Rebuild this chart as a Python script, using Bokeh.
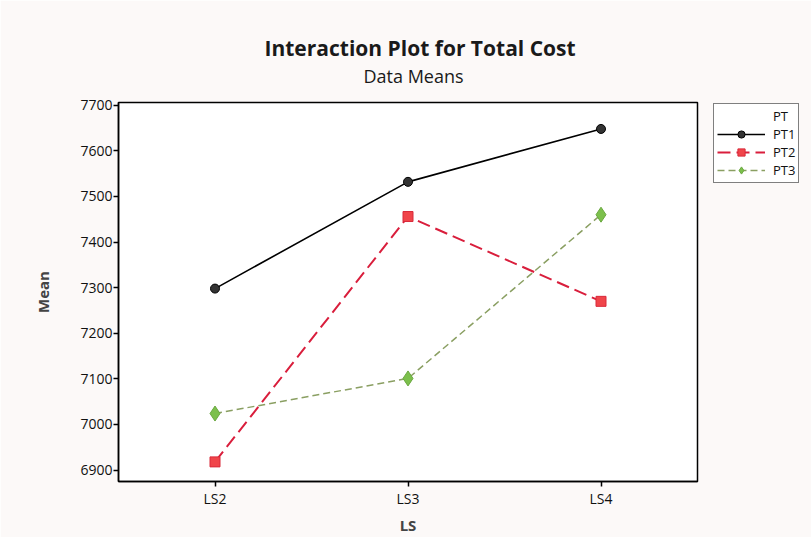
from bokeh.plotting import figure
from bokeh.models import Legend, LegendItem, FixedTicker, Range1d, FactorRange, Title
from bokeh.embed import file_html
from bokeh.resources import INLINE

ls_levels = ["LS2", "LS3", "LS4"]
pt1 = [7298, 7532, 7648]
pt2 = [6918, 7456, 7270]
pt3 = [7024, 7101, 7460]
y_ticks = [6900, 7000, 7100, 7200, 7300, 7400, 7500, 7600, 7700]

FONT = "Open Sans"

p = figure(x_range=FactorRange(*ls_levels, range_padding=0), y_range=Range1d(6875, 7706),
           frame_width=579, frame_height=379, output_backend="svg", toolbar_location=None,
           min_border_left=118, min_border_top=102, min_border_bottom=51, min_border_right=106)
p.x_range.factor_padding = 0
p.background_fill_color = "white"
p.border_fill_color = "#fcf9f8"
p.outline_line_color = "black"
p.outline_line_width = 1.5
p.grid.visible = False

p.title.text = ""
p.add_layout(Title(text="Data Means", align="left", text_font=FONT, text_font_size="18px",
                   text_font_style="normal", text_color="#1a1a1a", offset=245, standoff=29), "above")
p.add_layout(Title(text="Interaction Plot for Total Cost", align="left", text_font=FONT,
                   text_font_size="21px", text_font_style="bold", text_color="#1a1a1a",
                   offset=146, standoff=-28), "above")

for ax in (p.xaxis[0], p.yaxis[0]):
    ax.axis_line_color = "black"
    ax.axis_line_width = 1.5
    ax.major_tick_line_color = "black"
    ax.major_tick_line_width = 1.5
    ax.major_tick_out = 5
    ax.major_tick_in = 0
    ax.minor_tick_line_color = None
    ax.major_label_text_font = FONT
    ax.major_label_text_font_size = "14px"
    ax.major_label_text_color = "#111111"
    ax.axis_label_text_font = FONT
    ax.axis_label_text_font_size = "15px"
    ax.axis_label_text_font_style = "bold"

p.yaxis.major_label_standoff = 1
p.xaxis.major_label_standoff = 2
p.yaxis.ticker = FixedTicker(ticks=y_ticks)
p.yaxis.axis_label = "Mean"
p.yaxis.axis_label_standoff = 24
p.xaxis.axis_label = "LS"
p.xaxis.axis_label_standoff = 4
p.xaxis.axis_label_text_color = "#444444"

hdr = p.line(ls_levels, pt1, line_alpha=0)

r1l = p.line(ls_levels, pt1, line_color="black", line_width=1.6)
r1m = p.scatter(ls_levels, pt1, marker="circle", size=9, fill_color="#333333", line_color="black")

r2l = p.line(ls_levels, pt2, line_color="#d91e3c", line_width=2, line_dash="13 6")
r2m = p.scatter(ls_levels, pt2, marker="square", size=10, fill_color="#f0454a", line_color="#d92a3a")

r3l = p.line(ls_levels, pt3, line_color="#8a9f62", line_width=1.5, line_dash="7 4")
r3m = p.scatter(ls_levels, pt3, marker="diamond", size=15, fill_color="#7cc04c", line_color="#6aa840")

legend = Legend(items=[
    LegendItem(label="PT", renderers=[hdr]),
    LegendItem(label="PT1", renderers=[r1l, r1m]),
    LegendItem(label="PT2", renderers=[r2l, r2m]),
    LegendItem(label="PT3", renderers=[r3l, r3m]),
], location=(16, 298), orientation="vertical")
legend.border_line_color = "black"
legend.border_line_width = 1.5
legend.background_fill_color = "white"
legend.label_text_font = FONT
legend.label_text_font_size = "13px"
legend.label_text_color = "#111111"
legend.label_height = 14
legend.glyph_width = 48
legend.glyph_height = 18
legend.spacing = 0
legend.padding = 3
legend.margin = 0
legend.label_standoff = 8
p.add_layout(legend, "right")

open("out.html", "w").write(file_html(p, INLINE))
